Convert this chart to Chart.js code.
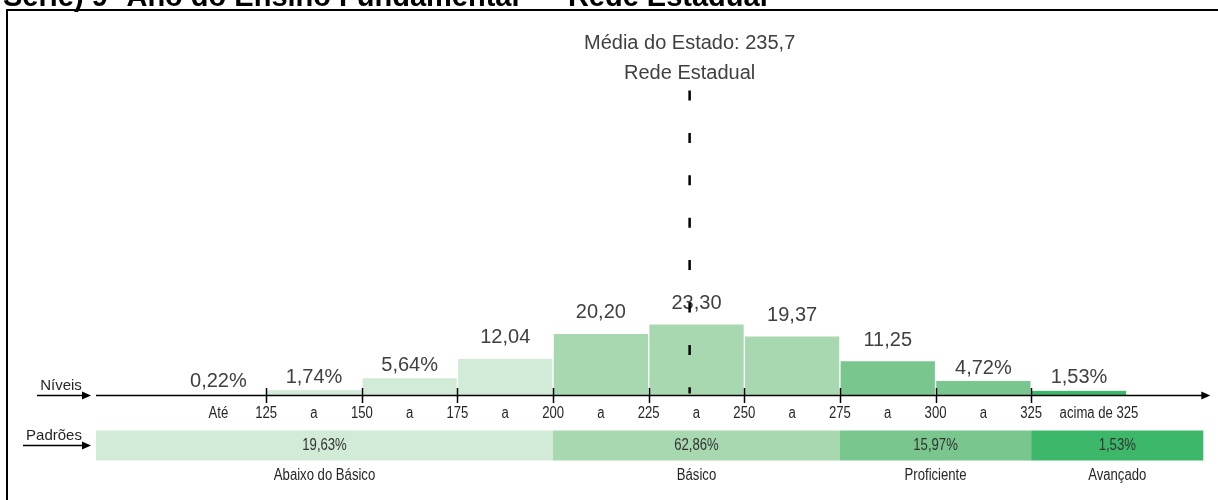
<!DOCTYPE html>
<html>
<head>
<meta charset="utf-8">
<script src="https://cdn.jsdelivr.net/npm/chart.js@4.4.0/dist/chart.umd.min.js"></script>
<style>
  html, body { margin: 0; padding: 0; background: #fff; overflow: hidden; }
  canvas { display: block; }
</style>
</head>
<body>
<canvas id="chart" width="1218" height="500"></canvas>
<script>
// Proficiency distribution (9º ano, Rede Estadual)
const binStarts = [100, 125, 150, 175, 200, 225, 250, 275, 300, 325];
const binWidth = 25;
const levelValues = [0.22, 1.74, 5.64, 12.04, 20.20, 23.30, 19.37, 11.25, 4.72, 1.53];
const levelTicks = [125, 150, 175, 200, 225, 250, 275, 300, 325];

const standardNames = ['Abaixo do Básico', 'Básico', 'Proficiente', 'Avançado'];
const standardLimits = [80.5, 200, 275, 325, 370];
const standardValues = [19.63, 62.86, 15.97, 1.53];
const standardColors = ['#d1ebd6', '#a7d8b0', '#79c68e', '#3db86b'];

const stateMean = 235.7;
const meanLines = ['Média do Estado: 235,7', 'Rede Estadual'];
const titleText = 'Série) 9º Ano do Ensino Fundamental  –  Rede Estadual';

const fmt = v => v.toFixed(2).replace('.', ',');
const standardOf = start => {
  for (let k = standardLimits.length - 2; k >= 0; k--) if (start >= standardLimits[k]) return k;
  return 0;
};
const barColors = binStarts.map(s => standardColors[standardOf(s)]);
const points = binStarts.map((s, i) => ({ x: s + binWidth / 2, y: levelValues[i] }));

const FONT = '"Liberation Sans", Arial, sans-serif';

function narrowText(ctx, text, x, y, size, color) {
  ctx.save();
  ctx.translate(x, y);
  ctx.scale(0.82, 1);
  ctx.font = size + 'px ' + FONT;
  ctx.fillStyle = color;
  ctx.textAlign = 'center';
  ctx.textBaseline = 'middle';
  ctx.fillText(text, 0, 0);
  ctx.restore();
}

function arrow(ctx, x0, x1, y) {
  ctx.beginPath();
  ctx.moveTo(x0, y);
  ctx.lineTo(x1 - 6, y);
  ctx.stroke();
  ctx.beginPath();
  ctx.moveTo(x1, y);
  ctx.lineTo(x1 - 9, y - 4);
  ctx.lineTo(x1 - 9, y + 4);
  ctx.closePath();
  ctx.fill();
}

const decorations = {
  id: 'decorations',
  beforeDraw(chart) {
    const ctx = chart.ctx;
    ctx.save();
    // frame
    ctx.strokeStyle = '#000';
    ctx.lineWidth = 2;
    ctx.beginPath();
    ctx.moveTo(7, 500);
    ctx.lineTo(7, 10);
    ctx.lineTo(1218, 10);
    ctx.stroke();
    // heading
    ctx.fillStyle = '#000';
    ctx.font = 'bold 29px ' + FONT;
    ctx.textAlign = 'left';
    ctx.textBaseline = 'alphabetic';
    ctx.fillText(titleText, 3, 6);
    ctx.restore();
  },
  afterDatasetsDraw(chart) {
    const { ctx, chartArea: a, scales: { x, y } } = chart;
    const axisY = y.getPixelForValue(0);
    ctx.save();

    // value labels above the bars
    const meta = chart.getDatasetMeta(0);
    ctx.fillStyle = '#404040';
    ctx.font = '20px ' + FONT;
    ctx.textAlign = 'center';
    ctx.textBaseline = 'middle';
    meta.data.forEach((bar, i) => {
      const v = levelValues[i];
      const label = fmt(v) + (v < 10 ? '%' : '');
      ctx.fillText(label, bar.x, bar.y - (v < 10 ? 13 : 21));
    });

    // horizontal axis with arrow
    ctx.strokeStyle = '#000';
    ctx.fillStyle = '#000';
    ctx.lineWidth = 1.5;
    arrow(ctx, a.left, a.right + 7, axisY);
    levelTicks.forEach(t => {
      const px = Math.round(x.getPixelForValue(t)) + 0.5;
      ctx.beginPath();
      ctx.moveTo(px, axisY - 7.5);
      ctx.lineTo(px, axisY + 7.5);
      ctx.stroke();
    });

    // row captions
    ctx.fillStyle = '#262626';
    ctx.font = '15px ' + FONT;
    ctx.textAlign = 'center';
    ctx.textBaseline = 'alphabetic';
    ctx.fillText('Níveis', 61, axisY - 6);
    ctx.fillText('Padrões', 54, axisY + 44);
    ctx.fillStyle = '#000';
    arrow(ctx, 37, 91, axisY);
    arrow(ctx, 23, 91, axisY + 50);

    // interval labels under the axis
    const ly = axisY + 18;
    narrowText(ctx, 'Até', x.getPixelForValue(binStarts[0] + binWidth / 2), ly, 16, '#262626');
    levelTicks.forEach((t, i) => {
      narrowText(ctx, String(t), x.getPixelForValue(t), ly, 16, '#262626');
      if (i < levelTicks.length - 1) {
        narrowText(ctx, 'a', x.getPixelForValue(t + binWidth / 2), ly, 16, '#262626');
      }
    });
    const last = levelTicks[levelTicks.length - 1];
    narrowText(ctx, 'acima de ' + last, x.getPixelForValue(last + binWidth / 2) + 20, ly, 16, '#262626');

    // performance standards band
    const bandTop = axisY + 35;
    const bandH = 30;
    standardValues.forEach((v, k) => {
      const x0 = x.getPixelForValue(standardLimits[k]);
      const x1 = x.getPixelForValue(standardLimits[k + 1]);
      ctx.fillStyle = standardColors[k];
      ctx.fillRect(x0, bandTop, x1 - x0, bandH);
      const cx = (x0 + x1) / 2;
      narrowText(ctx, fmt(v) + '%', cx, bandTop + bandH / 2, 16, '#333333');
      narrowText(ctx, standardNames[k], cx, bandTop + bandH + 15.5, 16, '#262626');
    });

    // state mean marker
    const mx = x.getPixelForValue(stateMean);
    ctx.fillStyle = '#404040';
    ctx.font = '20px ' + FONT;
    ctx.textAlign = 'center';
    ctx.textBaseline = 'middle';
    ctx.fillText(meanLines[0], mx, 43);
    ctx.fillText(meanLines[1], mx, 73);
    ctx.strokeStyle = '#000';
    ctx.lineWidth = 2.5;
    ctx.setLineDash([10, 32.4]);
    ctx.beginPath();
    ctx.moveTo(mx, a.top);
    ctx.lineTo(mx, axisY - 2);
    ctx.stroke();
    ctx.setLineDash([]);

    ctx.restore();
  }
};

new Chart(document.getElementById('chart'), {
  type: 'bar',
  data: {
    datasets: [{
      data: points,
      backgroundColor: barColors,
      borderColor: '#ffffff',
      borderWidth: { left: 1, right: 1, top: 0, bottom: 0 },
      borderSkipped: false,
      barPercentage: 1,
      categoryPercentage: 1
    }]
  },
  options: {
    responsive: false,
    animation: false,
    events: [],
    layout: { padding: { left: 96, right: 14.7, top: 90.5, bottom: 104.5 } },
    scales: {
      x: {
        type: 'linear',
        offset: false,
        min: standardLimits[0],
        max: standardLimits[standardLimits.length - 1],
        display: false,
        afterBuildTicks: scale => { scale.ticks = levelTicks.map(v => ({ value: v })); }
      },
      y: { min: 0, max: 100, display: false }
    },
    plugins: { legend: { display: false }, tooltip: { enabled: false }, title: { display: false } }
  },
  plugins: [decorations]
});
</script>
</body>
</html>
